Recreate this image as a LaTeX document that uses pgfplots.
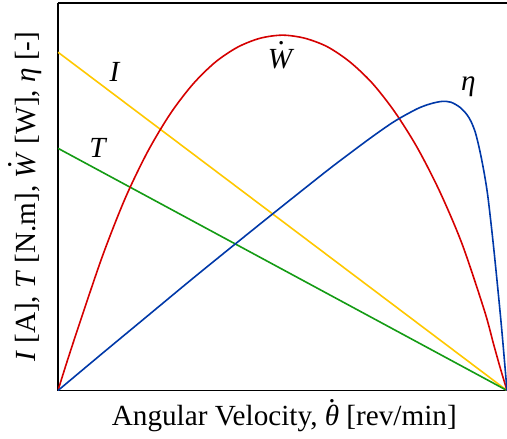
\documentclass[border=0pt]{standalone}
\usepackage{pgfplots}
\pgfplotsset{compat=1.18}
\usepackage{fontspec}
\setmainfont{Liberation Serif}

\definecolor{curI}{RGB}{255,200,0}
\definecolor{curT}{RGB}{20,155,20}
\definecolor{curW}{RGB}{213,0,0}
\definecolor{cureta}{RGB}{0,56,168}

% a dot placed over a symbol (time derivative)
\newcommand{\overdot}[2]{{\ooalign{#2\cr\hidewidth\raisebox{#1}{.}\hidewidth\cr}}}
\newcommand{\lblfont}{\fontsize{29.2bp}{34bp}\selectfont}

\begin{document}
\begin{tikzpicture}
\begin{axis}[
  name=ax,
  scale only axis,
  width=449bp, height=387.5bp,
  xmin=0, xmax=1, ymin=0, ymax=1,
  ticks=none,
  axis x line=box, axis y line=left,
  axis line style={-, line width=1.4bp},
  label style={font=\lblfont, inner sep=0pt},
  xlabel={Angular Velocity, \overdot{0.8em}{\textit{θ}} [rev/min]},
  ylabel={\textit{I} [A], \textit{T} [N.m], \overdot{0.8em}{\textit{W}} [W], \textit{η} [-]},
  xlabel style={at={(axis description cs:0.504,0)}, anchor=base, yshift=-35bp},
  ylabel style={at={(axis description cs:-0.0512,0.5)}, anchor=base, rotate=0},
  every axis plot/.append style={line width=1.6bp},
]
% current
\addplot[curI] coordinates {(0,0.873) (1,0)};
% torque
\addplot[curT] coordinates {(0,0.625) (1,0)};
% output power
\addplot[curW, smooth] coordinates {
  (0,0) (0.02,0.074) (0.05,0.180) (0.1,0.350) (0.15,0.497) (0.2,0.617)
  (0.25,0.714) (0.3,0.790) (0.35,0.847) (0.4,0.886) (0.45,0.909) (0.5,0.917)
  (0.55,0.909) (0.6,0.887) (0.65,0.848) (0.7,0.793) (0.75,0.719) (0.8,0.627)
  (0.85,0.514) (0.9,0.378) (0.95,0.205) (0.97,0.120) (0.985,0.058) (1,0)};
% efficiency
\addplot[cureta, smooth] coordinates {
  (0,0) (0.1,0.097) (0.2,0.193) (0.3,0.289) (0.4,0.383) (0.5,0.476)
  (0.6,0.568) (0.65,0.612) (0.7,0.655) (0.75,0.695) (0.8,0.727) (0.83,0.740)
  (0.855,0.746) (0.875,0.744) (0.895,0.731) (0.91,0.713) (0.92,0.694)
  (0.93,0.664) (0.94,0.616) (0.95,0.556) (0.958,0.495) (0.97,0.372)
  (0.983,0.222) (0.99,0.135) (1,0)};
\node[font=\lblfont, inner sep=0pt, anchor=center] at (axis cs:0.127,0.823) {\textit{I}};
\node[font=\lblfont, inner sep=0pt, anchor=center] at (axis cs:0.0898,0.625) {\textit{T}};
\node[font=\lblfont, inner sep=0pt, anchor=base] at (axis cs:0.497,0.8315) {\overdot{0.8em}{\textit{W}}};
\node[font=\lblfont, inner sep=0pt, anchor=base] at (axis cs:0.914,0.773) {\textit{η}};
\end{axis}
\pgfresetboundingbox
\path (ax.south west) ++(-58bp,-48.5bp) coordinate (bbsw);
\path (ax.north east) ++(0bp,3bp) coordinate (bbne);
\useasboundingbox (bbsw) rectangle (bbne);
\end{tikzpicture}
\end{document}
